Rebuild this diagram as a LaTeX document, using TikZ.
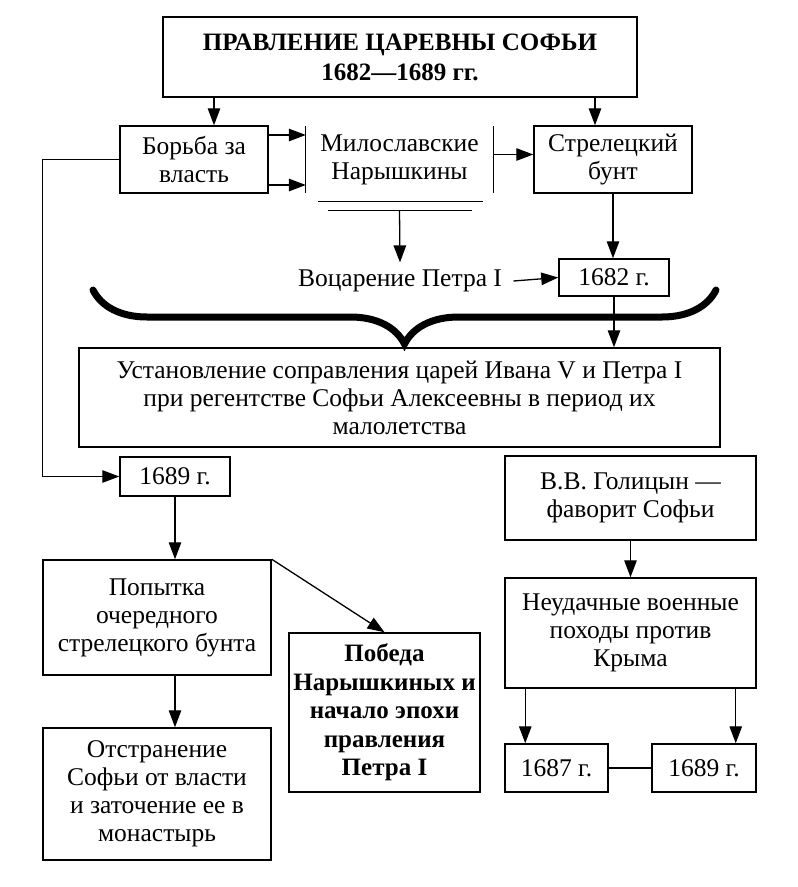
\documentclass[tikz,border=0pt]{standalone}
\usepackage{fontspec}
\setmainfont{Liberation Serif}
\usetikzlibrary{calc,arrows.meta,decorations.pathreplacing,positioning}

\begin{document}
\begin{tikzpicture}[x=1pt, y=-1pt, every node/.style={font=\fontsize{25.5}{28}\selectfont},
    box/.style={draw, line width=1.5pt, align=center, inner sep=2pt},
    arr/.style={-{Triangle[length=17pt, width=12.5pt]}, line width=1.3pt},
    rule/.style={line width=1.3pt}]

\useasboundingbox (0,0) rectangle (798,887);

% Title
\node[box, font=\fontsize{25}{30}\selectfont\bfseries, minimum width=474pt, minimum height=80pt] (title) at (400,57) {ПРАВЛЕНИЕ ЦАРЕВНЫ СОФЬИ\\1682—1689 гг.};

% Second row
\node[box, minimum width=148pt, minimum height=67pt] (borba) at (194,159.5) {Борьба за\\власть};
\node[align=center, minimum width=187pt, minimum height=67pt] (mil) at (399.5,159.5) {Милославские\\Нарышкины};
\node[box, minimum width=158pt, minimum height=67pt] (strel) at (613,159.5) {Стрелецкий\\бунт};

\draw[rule] (mil.north west) -- (mil.south west);
\draw[rule] (mil.north east) -- (mil.south east);
\draw[rule] ($(mil.south)+(-81.5,8)$) -- ++(165,0);
\draw[rule] ($(mil.south)+(-71.5,17)$) -- ++(144,0);
\coordinate (milrule) at ($(mil.south)+(0,17)$);

% Arrows from the title
\draw[arr] ([xshift=20pt]borba.north |- title.south) -- ([xshift=20pt]borba.north);
\draw[arr] ([xshift=-18pt]strel.north |- title.south) -- ([xshift=-18pt]strel.north);

% Arrows of the second row
\draw[arr] ([yshift=24.5pt]borba.east) -- ([yshift=24.5pt]mil.west);
\draw[arr] ([yshift=-25.5pt]borba.east) -- ([yshift=-25.5pt]mil.west);
\draw[arr] ([yshift=5pt]mil.east) -- ([yshift=5pt]strel.west);

% 1682
\node (voc) at (400,281) {Воцарение Петра I};
\node[box, minimum width=110pt, minimum height=37pt] (y1682) at (614,277.5) {1682 г.};

\draw[arr] (milrule) -- ([yshift=4pt]voc.north);
\draw[arr] ([xshift=8pt]voc.east) -- (y1682.west);
\draw[arr] (strel.south) -- (strel.south |- y1682.north);

% Brace
\coordinate (bl) at (93,290);
\coordinate (br) at (716,290);
\draw[line width=7pt, line cap=round, decorate, decoration={brace, amplitude=54pt, mirror}] (bl) -- (br);

% Co-rule
\node[box, minimum width=641pt, minimum height=99pt] (ust) at (399.5,397.5) {Установление соправления царей Ивана V и Петра I\\при регентстве Софьи Алексеевны в период их\\малолетства};

\draw[arr] (y1682.south) -- (y1682.south |- ust.north);

% Left branch: 1689
\node[box, minimum width=110pt, minimum height=39pt] (y1689a) at (175,476.5) {1689 г.};
\node[box, minimum width=228pt, minimum height=115pt] (pop) at (157,617.5) {Попытка\\очередного\\стрелецкого бунта};
\node[box, font=\fontsize{25}{28.5}\selectfont\bfseries, minimum width=191pt, minimum height=159pt] (pob) at (384.5,712.5) {Победа\\Нарышкиных и\\начало эпохи\\правления\\Петра I};
\node[box, minimum width=228pt, minimum height=132pt] (otst) at (157,794) {Отстранение\\Софьи от власти\\и заточение ее в\\монастырь};

\draw[arr] (borba.west) -- ++(-77,0) |- (y1689a.west);
\draw[arr] (y1689a.south) -- (y1689a.south |- pop.north);
\draw[arr] (pop.north east) -- (pob.north);
\draw[arr] (y1689a.south |- pop.south) -- (y1689a.south |- otst.north);

% Right branch: Golitsyn
\node[box, minimum width=251pt, minimum height=84pt] (gol) at (630.5,498) {В.В. Голицын —\\фаворит Софьи};
\node[box, minimum width=251pt, minimum height=110pt] (neud) at (630.5,633) {Неудачные военные\\походы против\\Крыма};
\node[box, minimum width=103pt, minimum height=48pt] (y1687) at (556.5,768) {1687 г.};
\node[box, minimum width=104pt, minimum height=48pt] (y1689b) at (704,768) {1689 г.};

\draw[arr] (gol.south) -- (neud.north);
\draw[arr] ([xshift=21pt]neud.south west) -- ([xshift=21pt]neud.south west |- y1687.north);
\draw[arr] ([xshift=-21pt]neud.south east) -- ([xshift=-21pt]neud.south east |- y1689b.north);
\draw[rule] (y1687.east) -- (y1689b.west);

\end{tikzpicture}
\end{document}
